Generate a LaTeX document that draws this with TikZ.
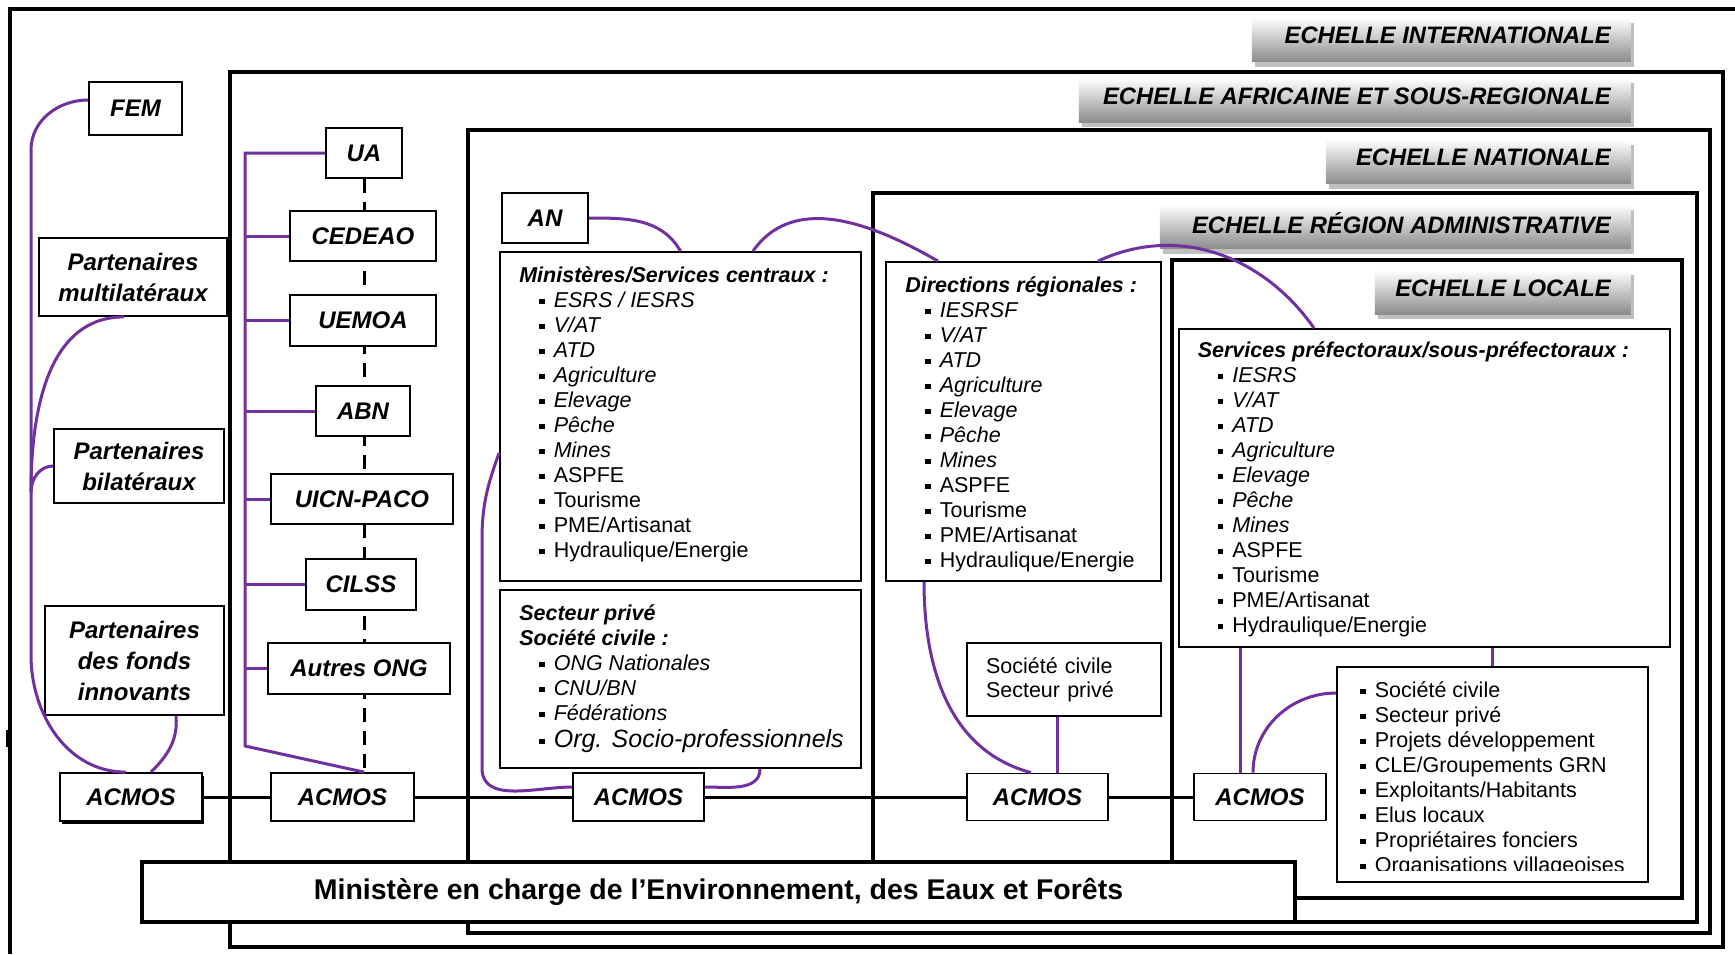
\documentclass[tikz,border=0pt]{standalone}
\usepackage{fontspec}
\setmainfont{Liberation Sans}
\usepackage{xcolor}
\usetikzlibrary{backgrounds,shadows}
\definecolor{liaison}{RGB}{112,48,160}
\tikzset{
	scaleframe/.style={line width=3.5pt},
	orgbox/.style={draw, line width=1.8pt, fill=white, inner sep=0pt},
	lbl/.style={orgbox, align=center,
			font=\bfseries\itshape\fontsize{24}{31}\selectfont},
	txt/.style={inner sep=0pt, align=left, anchor=north west,
			font=\fontsize{21.5}{25}\selectfont},
	pline/.style={draw=liaison, line width=3pt},
	echelle/.style={anchor=east, inner xsep=20pt, inner ysep=0pt,
			minimum height=44pt, top color=white, bottom color=black!45,
			drop shadow={shadow xshift=3pt, shadow yshift=-5pt, fill=black!25, opacity=1},
			font=\bfseries\itshape\fontsize{23.8}{28}\selectfont}
}
\newcommand{\itm}[1]{\hspace*{20pt}\rule[3pt]{5.5pt}{5.5pt}\hspace{9pt}#1}
\newcommand{\iitm}[1]{\itm{\textit{#1}}}
\newcommand{\ech}[2]{\raisebox{8pt}{\makebox[#1][r]{#2}}}

\begin{document}
\begin{tikzpicture}[x=1pt,y=-1pt]
	\useasboundingbox (0,0) rectangle (1735,954);

	% les echelles
	\draw[scaleframe] (10,954) -- (10,9) -- (1735,9);
	\draw[line width=4pt] (8,730) -- (8,747);
	\draw[scaleframe] (230,72) rectangle (1723,947);
	\draw[scaleframe] (468,130) rectangle (1710,933);
	\draw[scaleframe] (873,193) rectangle (1697,922);
	\draw[scaleframe] (1172,260) rectangle (1682,898);

	\node[echelle] (eint) at (1631,39.5) {\ech{339pt}{ECHELLE INTERNATIONALE}};
	\node[echelle] (eafr) at (1631,100) {\ech{512pt}{ECHELLE AFRICAINE ET SOUS-REGIONALE}};
	\node[echelle] (enat) at (1631,161.5) {\ech{265pt}{ECHELLE NATIONALE}};
	\node[echelle] (ereg) at (1631,226.5) {\ech{431pt}{ECHELLE RÉGION ADMINISTRATIVE}};
	\node[echelle] (eloc) at (1631,292) {\ech{216pt}{ECHELLE LOCALE}};

	% international
	\node[lbl, minimum width=93pt, minimum height=53pt] (fem) at (135.5,108.5) {FEM};
	\node[lbl, minimum width=188pt, minimum height=78pt] (pmulti) at (133,277) {Partenaires\\multilatéraux};
	\node[lbl, minimum width=170pt, minimum height=74pt] (pbila) at (139,466) {Partenaires\\bilatéraux};
	\node[lbl, minimum width=179pt, minimum height=109pt] (pfonds) at (134.5,660.5) {Partenaires\\des fonds\\innovants};
	\node[lbl, minimum width=142pt, minimum height=48pt,
		drop shadow={shadow xshift=1.5pt, shadow yshift=-2.5pt, fill=black, opacity=1}] (acmosi) at (131,797) {ACMOS};

	% africaine et sous-regionale
	\node[lbl, minimum width=76pt, minimum height=50pt] (ua) at (364,153) {UA};
	\node[lbl, minimum width=146pt, minimum height=50pt] (cedeao) at (363,236) {CEDEAO};
	\node[lbl, minimum width=146pt, minimum height=51pt] (uemoa) at (363,320.5) {UEMOA};
	\node[lbl, minimum width=94pt, minimum height=50pt] (abn) at (363,411) {ABN};
	\node[lbl, minimum width=182pt, minimum height=50pt] (uicn) at (362,499) {UICN-PACO};
	\node[lbl, minimum width=110pt, minimum height=51pt] (cilss) at (361,584.5) {CILSS};
	\node[lbl, minimum width=182pt, minimum height=51pt] (ong) at (359,668.5) {Autres ONG};
	\node[lbl, minimum width=143pt, minimum height=48pt] (acmosii) at (342.5,797) {ACMOS};

	% nationale
	\node[lbl, minimum width=86pt, minimum height=50pt] (an) at (545,218) {AN};
	\node[orgbox, minimum width=361pt, minimum height=329pt] (min) at (680.5,416.5) {};
	\node[txt] (mintxt) at ([shift={(20,15)}]min.north west) {\textbf{\textit{Ministères/Services centraux :}}\\
		\iitm{ESRS / IESRS}\\ \iitm{V/AT}\\ \iitm{ATD}\\ \iitm{Agriculture}\\ \iitm{Elevage}\\
		\iitm{Pêche}\\ \iitm{Mines}\\ \itm{ASPFE}\\ \itm{Tourisme}\\ \itm{PME/Artisanat}\\
		\itm{Hydraulique/Energie}};
	\node[orgbox, minimum width=361pt, minimum height=178pt] (sect) at (680.5,679) {};
	\node[txt] (secttxt) at ([shift={(20,15)}]sect.north west) {\textbf{\textit{Secteur privé}}\\
		\textbf{\textit{Société civile :}}\\ \iitm{ONG Nationales}\\ \iitm{CNU/BN}\\ \iitm{Fédérations}\\[2pt]
		\itm{\fontsize{25}{27}\selectfont\textit{Org. Socio-professionnels}}};
	\node[lbl, minimum width=131pt, minimum height=48pt] (acmosiii) at (638.5,797) {ACMOS};

	% region administrative
	\node[orgbox, minimum width=275pt, minimum height=319pt] (dir) at (1023.5,421.5) {};
	\node[txt] (dirtxt) at ([shift={(20,15)}]dir.north west) {\textbf{\textit{Directions régionales :}}\\
		\iitm{IESRSF}\\ \iitm{V/AT}\\ \iitm{ATD}\\ \iitm{Agriculture}\\ \iitm{Elevage}\\
		\iitm{Pêche}\\ \iitm{Mines}\\ \itm{ASPFE}\\ \itm{Tourisme}\\ \itm{PME/Artisanat}\\
		\itm{Hydraulique/Energie}};
	\node[orgbox, text width=156pt, inner xsep=19pt, minimum height=73pt, align=left,
		font=\fontsize{21.5}{24}\selectfont] (soc) at (1064,679.5) {Société civile\\Secteur privé};
	\node[lbl, minimum width=141pt, minimum height=47pt] (acmosiv) at (1037.5,797) {ACMOS};

	% locale
	\node[orgbox, minimum width=491pt, minimum height=318pt] (serv) at (1424.5,488) {};
	\node[txt] (servtxt) at ([shift={(19.5,13)}]serv.north west) {\textbf{\textit{Services préfectoraux/sous-préfectoraux :}}\\
		\iitm{IESRS}\\ \iitm{V/AT}\\ \iitm{ATD}\\ \iitm{Agriculture}\\ \iitm{Elevage}\\
		\iitm{Pêche}\\ \iitm{Mines}\\ \itm{ASPFE}\\ \itm{Tourisme}\\ \itm{PME/Artisanat}\\
		\itm{Hydraulique/Energie}};
	\node[orgbox, minimum width=311pt, minimum height=215pt] (lst) at (1492.5,774.5) {};
	\begin{scope}
		\clip (lst.north west) rectangle ([yshift=12pt]lst.south east);
		\node[txt] (lsttxt) at ([shift={(4,15)}]lst.north west) {\itm{Société civile}\\
			\itm{Secteur privé}\\ \itm{Projets développement}\\ \itm{CLE/Groupements GRN}\\
			\itm{Exploitants/Habitants}\\ \itm{Elus locaux}\\ \itm{Propriétaires fonciers}\\
			\itm{Organisations villageoises}};
	\end{scope}
	\node[lbl, minimum width=132pt, minimum height=47pt] (acmosv) at (1260,797) {ACMOS};

	\node[orgbox, line width=3.5pt, minimum width=1153pt, minimum height=60pt,
		font=\bfseries\fontsize{28.5}{34}\selectfont] (meef) at (718.5,892)
		{Ministère en charge de l’Environnement, des Eaux et Forêts};

	% liaisons
	\begin{scope}[on background layer]
		\draw[line width=3pt, dash pattern=on 14pt off 9pt] (ua.south) -- (ua.south |- acmosii.north);
		\draw[line width=3pt] (acmosi) -- (acmosii) -- (acmosiii) -- (acmosiv) -- (acmosv);
	\end{scope}

	\coordinate (trunktop) at (31,150);
	\coordinate (trunkmid) at (31,492);
	\coordinate (trunkbot) at (31,655);
	\draw[pline] ([yshift=8.5pt]fem.west) to[out=180,in=90] (trunktop) -- (trunkbot)
		to[out=-90,in=180] ([xshift=-5pt]acmosi.north);
	\draw[pline] ([xshift=-9pt]pmulti.south) to[out=180,in=90] (trunkmid);
	\draw[pline] (pbila.west) to[out=180,in=90] (trunkmid);
	\draw[pline] ([xshift=41.5pt]pfonds.south) to[out=-85,in=45] ([xshift=20pt]acmosi.north);

	\coordinate (atrunk) at (245,153);
	\coordinate (abend) at (245,746);
	\draw[pline] (ua.west) -- (atrunk) -- (abend) -- ([xshift=21.5pt]acmosii.north);
	\foreach \n in {cedeao,uemoa,abn,uicn,cilss,ong}
	\draw[pline] (\n.west) -- (\n.west -| atrunk);

	\coordinate (nbendi) at (482,540);
	\coordinate (nbendii) at (482,768);
	\draw[pline] (an.east) to[out=0,in=120] (min.north);
	\draw[pline] ([xshift=72.5pt]min.north) to[out=55,in=150] ([xshift=-85.5pt]dir.north);
	\draw[pline] ([yshift=-36.5pt]min.west) to[out=250,in=90] (nbendi) -- (nbendii)
		to[out=-90,in=180] ([yshift=10pt]acmosiii.west);
	\draw[pline] ([xshift=79.5pt]sect.south) to[out=-90,in=0] ([yshift=10pt]acmosiii.east);

	\draw[pline] ([xshift=-99.5pt]dir.south) to[out=-90,in=165] ([xshift=-6.5pt]acmosiv.north);
	\draw[pline] ([xshift=-7pt]soc.south) -- ([xshift=-7pt]soc.south |- acmosiv.north);
	\draw[pline] ([xshift=74.5pt]dir.north) to[out=25,in=125] ([xshift=-110.5pt]serv.north);

	\draw[pline] ([xshift=-20pt]acmosv.north) -- ([xshift=-20pt]acmosv.north |- serv.south);
	\draw[pline] (lst.north) -- (lst.north |- serv.south);
	\draw[pline] ([xshift=-7pt]acmosv.north) to[out=90,in=180] ([yshift=81.5pt]lst.west);
\end{tikzpicture}
\end{document}
